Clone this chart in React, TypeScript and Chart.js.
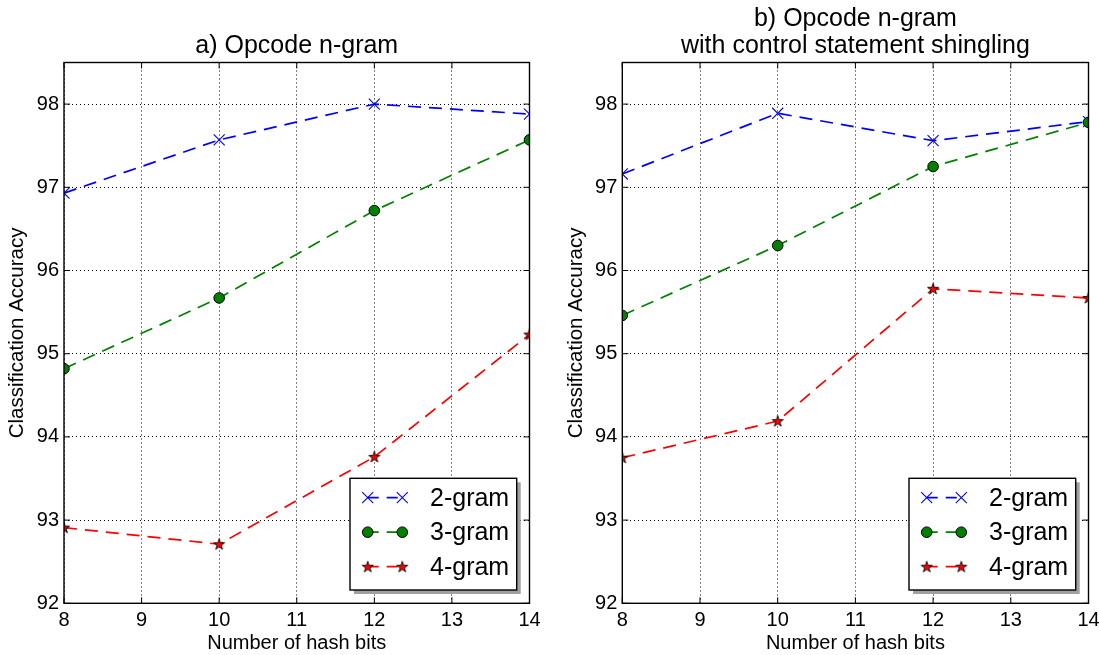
import React, { useEffect, useRef } from "react";
import { Chart, registerables } from "chart.js";

Chart.register(...registerables);

const FONT = "'Liberation Sans', Arial, Helvetica, sans-serif";

// ---- data ----
const hashBits = [8, 10, 12, 14];
const seriesNames = ["2-gram", "3-gram", "4-gram"];
const seriesColors = ["#0000ff", "#008000", "#ff0000"];

const panelATitle = ["a) Opcode n-gram"];
const panelA2gram = [96.93, 97.57, 98.0, 97.88];
const panelA3gram = [94.82, 95.67, 96.72, 97.57];
const panelA4gram = [92.91, 92.71, 93.76, 95.23];

const panelBTitle = ["b) Opcode n-gram", "with control statement shingling"];
const panelB2gram = [97.16, 97.89, 97.56, 97.79];
const panelB3gram = [95.46, 96.3, 97.25, 97.78];
const panelB4gram = [93.75, 94.19, 95.78, 95.67];

const xAxisLabel = "Number of hash bits";
const yAxisLabel = "Classification Accuracy";
const xMin = 8;
const xMax = 14;
const xStep = 1;
const yMin = 92;
const yMax = 98.5;
const yStep = 1;

function makeStar(): HTMLCanvasElement {
  const c = document.createElement("canvas");
  const s = 14;
  c.width = s;
  c.height = s;
  const g = c.getContext("2d")!;
  const R = 5.8;
  const r = R * 0.382;
  const cx = s / 2;
  const cy = s / 2 + 0.4;
  g.beginPath();
  for (let i = 0; i < 10; i++) {
    const ang = -Math.PI / 2 + (i * Math.PI) / 5;
    const rad = i % 2 === 0 ? R : r;
    const px = cx + rad * Math.cos(ang);
    const py = cy + rad * Math.sin(ang);
    if (i === 0) g.moveTo(px, py);
    else g.lineTo(px, py);
  }
  g.closePath();
  g.fillStyle = "#ff0000";
  g.fill();
  g.lineWidth = 0.9;
  g.strokeStyle = "#000";
  g.stroke();
  return c;
}

function buildDatasets(vals: number[][], star: HTMLCanvasElement) {
  return vals.map((arr, i) => ({
    label: seriesNames[i],
    data: hashBits.map((x, j) => ({ x, y: arr[j] })),
    borderColor: seriesColors[i],
    backgroundColor: seriesColors[i],
    borderWidth: 1.7,
    borderDash: [13, 8],
    pointStyle: i === 0 ? "crossRot" : i === 1 ? "circle" : star,
    pointRadius: i === 0 ? 7.8 : i === 1 ? 5.3 : 7,
    pointBorderColor: i === 0 ? seriesColors[0] : "#000",
    pointBackgroundColor: seriesColors[i],
    pointBorderWidth: i === 0 ? 1.1 : 1,
    tension: 0,
    fill: false,
    clip: 0,
    order: 3 - i,
  }));
}

function drawMarker(ctx: CanvasRenderingContext2D, ds: any, x: number, y: number) {
  const st = ds.pointStyle;
  ctx.save();
  ctx.setLineDash([]);
  if (st === "crossRot") {
    const h = ds.pointRadius * Math.SQRT1_2;
    ctx.strokeStyle = ds.pointBorderColor;
    ctx.lineWidth = ds.pointBorderWidth;
    ctx.beginPath();
    ctx.moveTo(x - h, y - h);
    ctx.lineTo(x + h, y + h);
    ctx.moveTo(x - h, y + h);
    ctx.lineTo(x + h, y - h);
    ctx.stroke();
  } else if (st === "circle") {
    ctx.fillStyle = ds.pointBackgroundColor;
    ctx.strokeStyle = ds.pointBorderColor;
    ctx.lineWidth = ds.pointBorderWidth;
    ctx.beginPath();
    ctx.arc(x, y, ds.pointRadius, 0, Math.PI * 2);
    ctx.fill();
    ctx.stroke();
  } else if (st && st.width) {
    ctx.drawImage(st, x - st.width / 2, y - st.height / 2);
  }
  ctx.restore();
}

const framePlugin = {
  id: "mplFrame",
  afterDatasetsDraw(chart: any) {
    const { ctx, chartArea: a, scales } = chart;
    const xs = scales.x;
    const ys = scales.y;
    const L = 6;
    ctx.save();
    ctx.setLineDash([]);
    ctx.strokeStyle = "#000";
    ctx.lineWidth = 1;
    ctx.beginPath();
    xs.ticks.forEach((t: any) => {
      const px = xs.getPixelForValue(t.value);
      ctx.moveTo(px, a.bottom);
      ctx.lineTo(px, a.bottom - L);
      ctx.moveTo(px, a.top);
      ctx.lineTo(px, a.top + L);
    });
    ys.ticks.forEach((t: any) => {
      const py = ys.getPixelForValue(t.value);
      ctx.moveTo(a.left, py);
      ctx.lineTo(a.left + L, py);
      ctx.moveTo(a.right, py);
      ctx.lineTo(a.right - L, py);
    });
    ctx.stroke();
    ctx.lineWidth = 1.4;
    ctx.strokeRect(a.left, a.top, a.right - a.left, a.bottom - a.top);
    ctx.restore();
  },
};

const legendPlugin = {
  id: "mplLegend",
  afterDraw(chart: any) {
    const { ctx, chartArea: a } = chart;
    const W = 166.7;
    const H = 111.7;
    const right = a.right - 12.8;
    const bottom = a.bottom - 13.3;
    const left = right - W;
    const top = bottom - H;
    ctx.save();
    ctx.setLineDash([]);
    ctx.fillStyle = "#a0a0a0";
    ctx.fillRect(left + 4, top + 4, W, H);
    ctx.fillStyle = "#fff";
    ctx.fillRect(left, top, W, H);
    ctx.strokeStyle = "#000";
    ctx.lineWidth = 1.4;
    ctx.strokeRect(left, top, W, H);
    chart.data.datasets.forEach((ds: any, i: number) => {
      const y = top + 19.4 + i * 34.5;
      const x1 = left + 17.7;
      const x2 = left + 52.3;
      ctx.save();
      ctx.strokeStyle = ds.borderColor;
      ctx.lineWidth = ds.borderWidth;
      ctx.setLineDash([11, 8]);
      ctx.beginPath();
      ctx.moveTo(x1, y);
      ctx.lineTo(x2, y);
      ctx.stroke();
      ctx.restore();
      drawMarker(ctx, ds, x1, y);
      drawMarker(ctx, ds, x2, y);
      ctx.fillStyle = "#000";
      ctx.font = `25px ${FONT}`;
      ctx.textAlign = "left";
      ctx.textBaseline = "middle";
      ctx.fillText(ds.label, left + 80, y + 1);
    });
    ctx.restore();
  },
};

function buildConfig(
  titleLines: string[],
  vals: number[][],
  star: HTMLCanvasElement,
  yAxisWidth: number,
  padRight: number,
  titlePadTop: number,
  titlePadBottom: number,
  yTitlePad: number
): any {
  return {
    type: "line",
    data: { datasets: buildDatasets(vals, star) },
    plugins: [framePlugin, legendPlugin],
    options: {
      animation: false,
      responsive: false,
      events: [],
      layout: { padding: { left: 0, right: padRight, top: 0, bottom: 0 } },
      plugins: {
        legend: { display: false },
        tooltip: { enabled: false },
        title: {
          display: true,
          text: titleLines,
          fullSize: false,
          color: "#000",
          font: { family: FONT, size: 25, weight: "normal", lineHeight: 1.08 },
          padding: { top: titlePadTop, bottom: titlePadBottom },
        },
      },
      scales: {
        x: {
          type: "linear",
          min: xMin,
          max: xMax,
          ticks: {
            stepSize: xStep,
            color: "#000",
            padding: 5.5,
            font: { family: FONT, size: 20 },
          },
          grid: { color: "#000", lineWidth: 1, drawTicks: false },
          border: { display: false, dash: [1, 3] },
          title: {
            display: true,
            text: xAxisLabel,
            color: "#000",
            font: { family: FONT, size: 20 },
            padding: { top: 0, bottom: 0 },
          },
          afterFit: (s: any) => {
            s.height = 51.7;
          },
        },
        y: {
          type: "linear",
          min: yMin,
          max: yMax,
          ticks: {
            stepSize: yStep,
            includeBounds: false,
            color: "#000",
            padding: 5,
            font: { family: FONT, size: 20 },
          },
          grid: { color: "#000", lineWidth: 1, drawTicks: false },
          border: { display: false, dash: [1, 3] },
          title: {
            display: true,
            text: yAxisLabel,
            color: "#000",
            font: { family: FONT, size: 20.5 },
            padding: { top: yTitlePad, bottom: 0 },
          },
          afterFit: (s: any) => {
            s.width = yAxisWidth;
          },
        },
      },
    },
  };
}

export default function App() {
  const leftRef = useRef<HTMLCanvasElement>(null);
  const rightRef = useRef<HTMLCanvasElement>(null);

  useEffect(() => {
    const star = makeStar();
    const c1 = new Chart(
      leftRef.current!,
      buildConfig(panelATitle, [panelA2gram, panelA3gram, panelA4gram], star, 64, 30.5, 32.9, 2.6, 5.3)
    );
    const c2 = new Chart(
      rightRef.current!,
      buildConfig(panelBTitle, [panelB2gram, panelB3gram, panelB4gram], star, 62.3, 31.5, 5.9, 2.6, 3.6)
    );
    return () => {
      c1.destroy();
      c2.destroy();
    };
  }, []);

  return (
    <div
      style={{
        position: "fixed",
        left: 0,
        top: 0,
        width: 1099,
        height: 655,
        overflow: "hidden",
        background: "#fff",
      }}
    >
      <canvas
        ref={leftRef}
        width={560}
        height={655}
        style={{ position: "absolute", left: 0, top: 0, width: 560, height: 655 }}
      />
      <canvas
        ref={rightRef}
        width={560}
        height={655}
        style={{ position: "absolute", left: 560, top: 0, width: 560, height: 655 }}
      />
    </div>
  );
}
